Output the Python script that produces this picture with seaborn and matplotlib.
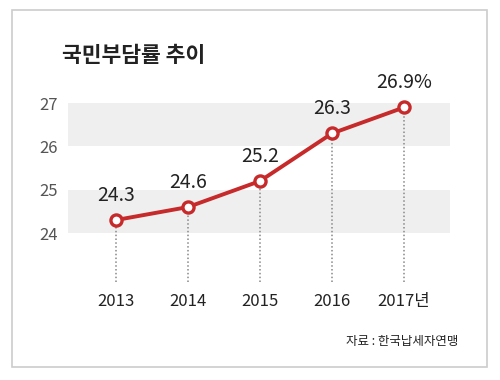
import matplotlib
matplotlib.use("Agg")
import matplotlib.pyplot as plt
import seaborn as sns
import pandas as pd
from matplotlib.patches import Rectangle

years = ["2013", "2014", "2015", "2016", "2017년"]
values = [24.3, 24.6, 25.2, 26.3, 26.9]
value_labels = ["24.3", "24.6", "25.2", "26.3", "26.9%"]
yticks = [24, 25, 26, 27]
title = "국민부담률 추이"
source = "자료 : 한국납세자연맹"

sns.set_theme(style="white")
plt.rcParams['font.family'] = ['Noto Sans CJK KR', 'DejaVu Sans']

df = pd.DataFrame({"x": range(len(years)), "value": values})

fig = plt.figure(figsize=(5, 3.8), dpi=100)
fig.patch.set_facecolor("white")
ax = fig.add_axes([0.136, 0.258, 0.764, 0.539])

ymin = 22.87
ax.set_xlim(-0.667, 4.64)
ax.set_ylim(ymin, 27.6)

for lo in (24, 26):
    ax.axhspan(lo, lo + 1, color="#efefef", zorder=0, lw=0)

ax.vlines(df["x"], ymin, df["value"], colors="#888888", linestyles=(0, (1, 1.5)), lw=1.1, zorder=1)

sns.lineplot(data=df, x="x", y="value", ax=ax, color="#c62a2a", lw=2.8,
             marker="o", markersize=8, markerfacecolor="white",
             markeredgecolor="#c62a2a", markeredgewidth=2.4, zorder=3)

for x, v, lab in zip(df["x"], values, value_labels):
    ax.annotate(lab, (x, v), xytext=(0, 18), textcoords="offset points",
                ha="center", va="center", fontsize=14, fontweight="medium",
                color="#222222")

ax.set_xticks(range(len(years)))
ax.set_xticklabels(years, fontsize=12, color="#222222", fontweight="medium")
ax.set_yticks(yticks)
ax.set_yticklabels([str(t) for t in yticks], fontsize=12, color="#555555")
ax.tick_params(axis="x", length=0, pad=8)
ax.tick_params(axis="y", length=0, pad=7)
ax.set_xlabel("")
ax.set_ylabel("")
for s in ax.spines.values():
    s.set_visible(False)
ax.patch.set_alpha(0)

fig.text(62 / 500, 1 - 55 / 380, title, fontsize=15.5, fontweight="bold",
         ha="left", va="center", color="#222222")
fig.text(458 / 500, 1 - 342 / 380, source, fontsize=9, ha="right",
         va="center", color="#222222", fontweight="medium")

fig.patches.append(Rectangle((12 / 500, 1 - 367 / 380), 475 / 500, 357 / 380,
                             transform=fig.transFigure, fill=False,
                             edgecolor="#cccccc", lw=1.2, zorder=0))

fig.savefig("out.png", dpi=100)
